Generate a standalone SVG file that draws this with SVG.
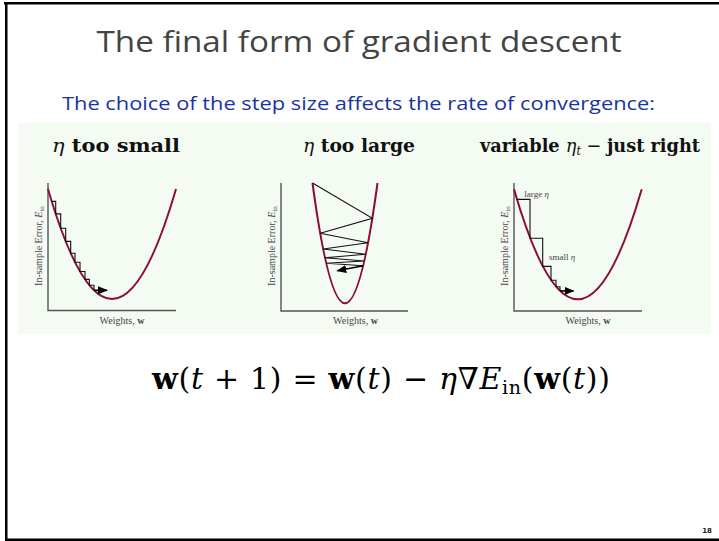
<svg xmlns="http://www.w3.org/2000/svg" width="719" height="541" viewBox="0 0 719 541">
<defs>
<marker id="ah" viewBox="0 0 10 8" refX="9" refY="4" markerWidth="10" markerHeight="8" markerUnits="userSpaceOnUse" orient="auto">
<path d="M0,0 L10,4 L0,8 Z" fill="#000"/>
</marker>
<style>
.axis{stroke:#555;stroke-width:1.4;fill:none}
.curve{stroke:#8a0b3c;stroke-width:2;fill:none}
.step{stroke:#111;stroke-width:1.1;fill:none}
.arr{stroke:#000;stroke-width:1.6;fill:none}
.lab{font-family:"Liberation Serif","DejaVu Serif",serif;font-size:10px;fill:#444}
.small{font-size:9px}
.head{font-family:"DejaVu Serif","Liberation Serif",serif;font-size:19px;font-weight:bold;fill:#111}
.eq{font-family:"DejaVu Serif","Liberation Serif",serif;font-size:30px;fill:#000}
</style>
</defs>
<rect x="0" y="0" width="719" height="541" fill="#fff"/>
<rect x="4" y="2" width="715" height="2.5" fill="#000"/>
<rect x="5" y="2" width="2.5" height="539" fill="#000"/>
<rect x="5" y="538.5" width="714" height="2.5" fill="#000"/>
<g id="title">
<text x="359" y="52" text-anchor="middle" font-family="Open Sans, DejaVu Sans, sans-serif" font-size="30" fill="#444" textLength="525" lengthAdjust="spacingAndGlyphs">The final form of gradient descent</text>
</g>
<g id="subtitle">
<text x="62" y="110" font-family="Open Sans, DejaVu Sans, sans-serif" font-size="18" fill="#1a33a3" textLength="593" lengthAdjust="spacingAndGlyphs">The choice of the step size affects the rate of convergence:</text>
</g>
<rect id="panel" x="18" y="123" width="693" height="211" fill="#f4fbf2"/>
<g id="headings">
<text class="head" x="52" y="152" textLength="128" lengthAdjust="spacingAndGlyphs"><tspan font-style="italic" font-weight="normal">η</tspan> too small</text>
<text class="head" x="303" y="152" textLength="112" lengthAdjust="spacingAndGlyphs"><tspan font-style="italic" font-weight="normal">η</tspan> too large</text>
<text class="head" x="480" y="152" textLength="220" lengthAdjust="spacingAndGlyphs">variable <tspan font-style="italic" font-weight="normal">η</tspan><tspan font-style="italic" font-weight="normal" font-size="12" dy="3">t</tspan><tspan dy="-3" font-weight="normal"> − </tspan>just right</text>
</g>
<g id="plot-small">
<path class="axis" d="M48,183 V310.5 H176"/>
<path class="curve" d="M48,189 Q112,409 176,189"/>
<path class="step" d="M51.7,201.4 H55.7 V213.9 H60.7 V228.3 H65.7 V241.4 H70.7 V253.2 H75 V262.2 H80 V271.5 H85 V279.4 H89.3 V285.2 H94 V290.3"/>
<path class="arr" d="M94,290.3 H107" marker-end="url(#ah)"/>
<text class="lab" transform="translate(42,246) rotate(-90)" text-anchor="middle">In-sample Error, <tspan font-style="italic">E</tspan><tspan font-size="7" dy="1.5">in</tspan></text>
<text class="lab" x="122" y="324" text-anchor="middle">Weights, <tspan font-weight="bold">w</tspan></text>
</g>
<g id="plot-large">
<path class="axis" d="M281,183 V311 H408"/>
<path class="curve" d="M312.5,183 Q345,423.6 377.5,183"/>
<path class="step" d="M312.5,183 L372.4,218.3 L320.2,233.3 L368.1,242.7 L323.1,249 L365.8,254.3 L325,257.7 L364.3,261 L326.2,263.3 L363.2,265.7"/>
<path class="arr" d="M363.2,265.7 L337.3,270.7" marker-end="url(#ah)"/>
<text class="lab" transform="translate(275,246) rotate(-90)" text-anchor="middle">In-sample Error, <tspan font-style="italic">E</tspan><tspan font-size="7" dy="1.5">in</tspan></text>
<text class="lab" x="355.5" y="324" text-anchor="middle">Weights, <tspan font-weight="bold">w</tspan></text>
</g>
<g id="plot-variable">
<path class="axis" d="M514,183 V311 H642"/>
<path class="curve" d="M514,189.3 Q577.7,409.3 641.7,189.3"/>
<path class="step" d="M516.7,199.4 H530 V238.2 H542.7 V266.4 H551 V280.2 H556 V286.7 H560 V290.9"/>
<path class="arr" d="M560,290.9 H573.5" marker-end="url(#ah)"/>
<text class="lab small" x="524.3" y="197">large <tspan font-style="italic">η</tspan></text>
<text class="lab small" x="549" y="260">small <tspan font-style="italic">η</tspan></text>
<text class="lab" transform="translate(508,246) rotate(-90)" text-anchor="middle">In-sample Error, <tspan font-style="italic">E</tspan><tspan font-size="7" dy="1.5">in</tspan></text>
<text class="lab" x="588" y="324" text-anchor="middle">Weights, <tspan font-weight="bold">w</tspan></text>
</g>
<g id="equation">
<text class="eq" x="152" y="389" textLength="458" lengthAdjust="spacing"><tspan font-weight="bold">w</tspan>(<tspan font-style="italic">t</tspan> + 1) = <tspan font-weight="bold">w</tspan>(<tspan font-style="italic">t</tspan>) − <tspan font-style="italic">η</tspan>∇<tspan font-style="italic">E</tspan><tspan font-size="19" dy="5">in</tspan><tspan dy="-5">(</tspan><tspan font-weight="bold">w</tspan>(<tspan font-style="italic">t</tspan>))</text>
</g>
<text id="page" x="712" y="533" text-anchor="end" font-family="DejaVu Sans, sans-serif" font-size="7" font-weight="bold" fill="#222">18</text>
</svg>
